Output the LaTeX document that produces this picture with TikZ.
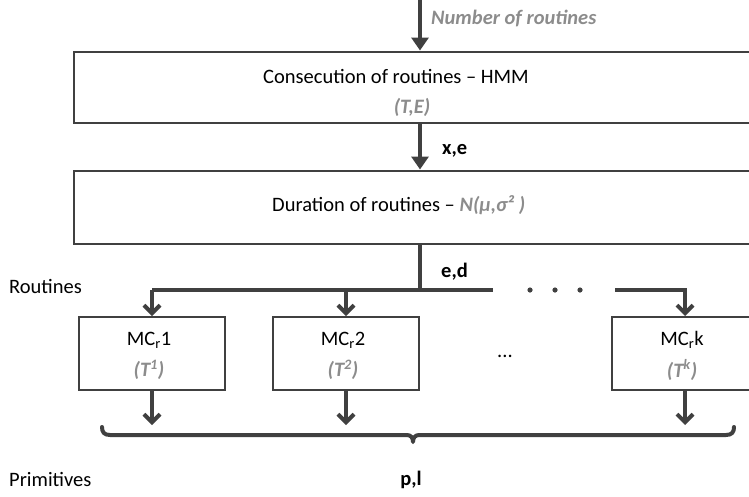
\documentclass[tikz,border=0pt]{standalone}
\usepackage{fontspec}
\setmainfont{Carlito}
\usetikzlibrary{arrows.meta}
\definecolor{lc}{HTML}{404040}
\definecolor{gt}{HTML}{8C8C8C}
\tikzset{
  boxst/.style={draw=lc, line width=2pt, inner sep=0pt},
  conn/.style={draw=lc, line width=4pt},
  fatarrow/.style={conn, -{Triangle[width=17pt,length=13pt]}},
  chev/.style={conn, -{Straight Barb[width=16pt,length=8pt,line width=4pt]}},
  txt/.style={font=\fontsize{20.5}{24}\selectfont, inner sep=0pt},
  gtxt/.style={txt, text=gt, font=\fontsize{20.5}{24}\selectfont\bfseries\itshape},
  btxt/.style={txt, font=\fontsize{20.5}{24}\selectfont\bfseries},
}
\begin{document}
\begin{tikzpicture}[x=1pt,y=-1pt]
\useasboundingbox (0,0) rectangle (749,496);
% boxes
\node[boxst, minimum width=678pt, minimum height=71pt] (hmm) at (413,87) {};
\node[boxst, minimum width=678pt, minimum height=73pt] (dur) at (413,207) {};
\node[boxst, minimum width=146pt, minimum height=73pt] (m1) at (152,353.5) {};
\node[boxst, minimum width=146pt, minimum height=73pt] (m2) at (346,353.5) {};
\node[boxst, minimum width=146pt, minimum height=73pt] (mk) at (685,353.5) {};
% texts
\node[txt, anchor=west] (hmmt) at (263,76) {Consecution of routines -- HMM};
\node[gtxt] (hmmp) at (412,107) {(T,E)};
\node[txt, anchor=west] (durt) at (272,205) {Duration of routines -- \textcolor{gt}{\bfseries\itshape N(μ,σ² )}};
\node[txt] (m1t) at (149,340) {MC\textsubscript{r}1};
\node[gtxt] (m1p) at (149,370) {(T\textsuperscript{1})};
\node[txt] (m2t) at (343,340) {MC\textsubscript{r}2};
\node[gtxt] (m2p) at (343,370) {(T\textsuperscript{2})};
\node[txt] (mkt) at (682,340) {MC\textsubscript{r}k};
\node[gtxt] (mkp) at (682,370) {(T\textsuperscript{k})};
\node[txt] (ell) at (505,356) {...};
\node[gtxt, anchor=west] (nor) at (431,18) {Number of routines};
\node[btxt, anchor=west] (xe) at (442,151) {x,e};
\node[btxt, anchor=west] (ed) at (441,272) {e,d};
\node[txt, anchor=west] (rout) at (9,286) {Routines};
\node[txt, anchor=west] (prim) at (9,479) {Primitives};
\node[btxt] (pl) at (411,480) {p,l};
% connectors
\coordinate (top) at (420,0);
\draw[fatarrow] (top) -- (top |- hmm.north);
\coordinate (a1) at (420,0 |- hmm.south);
\draw[fatarrow] (a1) -- (a1 |- dur.north);
\coordinate (s) at (420,0 |- dur.south);
\coordinate (j) at (420,290);
\draw[conn] (s) -- (j);
\coordinate (b1) at (m1.north |- j);
\coordinate (b2) at (m2.north |- j);
\coordinate (bk) at (mk.north |- j);
\coordinate (gap1) at (493,290);
\coordinate (gap2) at (615,290);
\draw[conn] (b1) -- (gap1);
\draw[conn, line join=miter] (gap2) -- (bk) -- ++(0,10);
\draw[chev] (b1) -- (m1.north);
\draw[chev] (b2) -- (m2.north);
\draw[chev] (bk) -- (mk.north);
\foreach \x in {530,555,580} \fill[lc] (\x,290) circle (2.6pt);
% lower arrows
\coordinate (c1) at (152,425);
\coordinate (c2) at (346,425);
\coordinate (ck) at (685,425);
\draw[chev] (m1.south) -- (c1);
\draw[chev] (m2.south) -- (c2);
\draw[chev] (mk.south) -- (ck);
% brace
\draw[conn, line cap=round, line join=round]
  (102,427) .. controls (102,432) and (104,435) .. (110,435)
  -- (407,435) .. controls (411,435) and (413,438) .. (413,442)
  .. controls (413,438) and (415,435) .. (419,435)
  -- (726,435) .. controls (732,435) and (734,432) .. (734,427);
\end{tikzpicture}
\end{document}
